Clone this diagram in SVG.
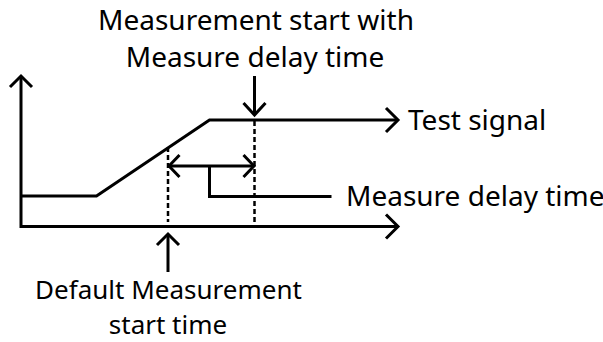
<svg xmlns="http://www.w3.org/2000/svg" width="603" height="342" viewBox="0 0 603 342">
<style>
  .ln { fill: none; stroke: #000; stroke-width: 3; stroke-linecap: butt; stroke-linejoin: miter; }
  .ah { fill: none; stroke: #000; stroke-width: 3; stroke-linecap: butt; stroke-linejoin: miter; }
  .dash { fill: none; stroke: #000; stroke-width: 2.5; stroke-dasharray: 5 3; }
  .t { font-family: "Noto Sans", "Open Sans", sans-serif; font-size: 28px; fill: #000; }
  .tb { font-family: "Noto Sans", "Open Sans", sans-serif; font-size: 26px; fill: #000; }
</style>
<rect width="603" height="342" fill="#fff"/>
<g id="axes">
  <polyline class="ln" points="21,76 21,226.5 398,226.5"/>
  <polyline class="ah" points="10,87 21,76 32,87"/>
  <polyline class="ah" points="386,214.5 398,226.5 386,238.5"/>
</g>
<g id="test-signal">
  <polyline class="ln" points="21,196 96.5,196 209.5,120 397,120"/>
  <polyline class="ah" points="386,108 398,120 386,132"/>
  <text class="t" x="408" y="130">Test signal</text>
</g>
<g id="connectors">
  <line class="dash" x1="168" y1="147" x2="168" y2="222"/>
  <line class="dash" x1="254.5" y1="121" x2="254.5" y2="222"/>
  <line class="ln" x1="254.5" y1="76" x2="254.5" y2="115"/>
  <polyline class="ah" points="243.5,103 254.5,115 265.5,103"/>
  <line class="ln" x1="168" y1="234" x2="168" y2="272"/>
  <polyline class="ah" points="157,245 168,234 179,245"/>
  <line class="ln" x1="169" y1="166" x2="253.5" y2="166"/>
  <polyline class="ah" points="179.5,155 169,166 179.5,177"/>
  <polyline class="ah" points="243.5,155 254,166 243.5,177"/>
  <polyline class="ln" points="209.5,166 209.5,196.5 331.5,196.5"/>
</g>
<g id="label-measure-start">
  <text class="t" x="256" y="29.5" text-anchor="middle">Measurement start with</text>
  <text class="t" x="255" y="66.5" text-anchor="middle">Measure delay time</text>
</g>
<g id="label-delay">
  <text class="t" x="346" y="206">Measure delay time</text>
</g>
<g id="label-default">
  <text class="tb" x="168.5" y="298.8" text-anchor="middle">Default Measurement</text>
  <text class="tb" x="168" y="334.3" text-anchor="middle">start time</text>
</g>
</svg>
